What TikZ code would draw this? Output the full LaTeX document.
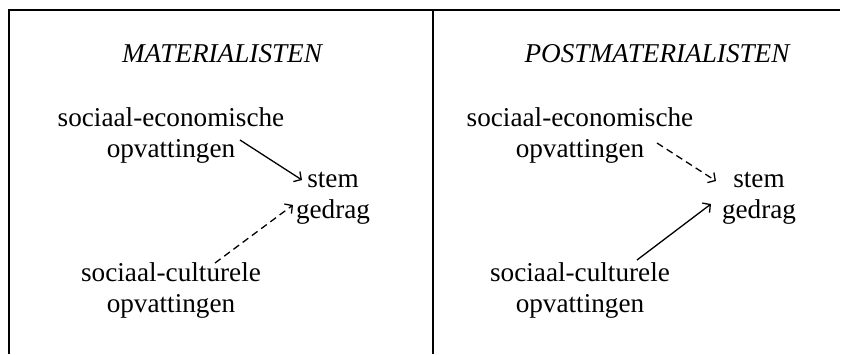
\documentclass[tikz,border=0pt]{standalone}
\usepackage{fontspec}
\setmainfont{Liberation Serif}
\usetikzlibrary{arrows.meta}
\begin{document}
\begin{tikzpicture}[x=1pt,y=-1pt,
  lbl/.style={font=\fontsize{27.2}{31}\selectfont, inner sep=0pt, align=center, anchor=base},
  ttl/.style={font=\fontsize{27.2}{31}\selectfont\itshape, inner sep=0pt, anchor=base},
  frame/.style={line width=1.5pt},
  conn/.style={line width=1.3pt, -{Straight Barb[length=5.5pt,width=12pt,line width=1.3pt]}},
  dconn/.style={conn, dash pattern=on 7pt off 4.5pt}]
\useasboundingbox (0,0) rectangle (849,354);
\draw[frame] (9,354) -- (9,10) -- (840,10);
\draw[frame] (433,10) -- (433,354);
% left panel
\node[ttl] (tL) at (222,62) {MATERIALISTEN};
\node[lbl] (seL) at (171,157) {sociaal-economische\\opvattingen};
\node[lbl] (sgL) at (333,218) {stem\\gedrag};
\node[lbl] (scL) at (171,312) {sociaal-culturele\\opvattingen};
\coordinate (a1) at (240,140);
\coordinate (a2) at (302,180);
\coordinate (b1) at (215,263);
\coordinate (b2) at (293,205);
\draw[conn] (a1) -- (a2);
\draw[dconn] (b1) -- (b2);
% right panel
\node[ttl] (tR) at (657,62) {POSTMATERIALISTEN};
\node[lbl] (seR) at (580,157) {sociaal-economische\\opvattingen};
\node[lbl] (sgR) at (759,218) {stem\\gedrag};
\node[lbl] (scR) at (580,312) {sociaal-culturele\\opvattingen};
\coordinate (c1) at (657,143);
\coordinate (c2) at (716,181);
\coordinate (d1) at (637,260);
\coordinate (d2) at (711,204);
\draw[dconn] (c1) -- (c2);
\draw[conn] (d1) -- (d2);
\end{tikzpicture}
\end{document}
